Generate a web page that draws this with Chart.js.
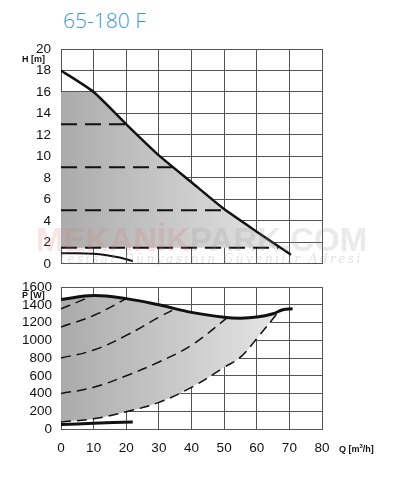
<!DOCTYPE html>
<html>
<head>
<meta charset="utf-8">
<script src="https://cdn.jsdelivr.net/npm/chart.js@4.4.0/dist/chart.umd.min.js"></script>
<style>
  body { margin: 0; background: #fff; width: 394px; height: 480px; position: relative; overflow: hidden; font-family: "Liberation Sans", Arial, sans-serif; }
  canvas { position: absolute; left: 0; }
  #top { top: 0; }
  #bottom { top: 270px; }
  .lbl { position: absolute; font-size: 9px; font-weight: bold; color: #111; white-space: nowrap; }
  #title { position: absolute; left: 63px; top: 6px; font-family: "Open Sans", sans-serif; font-weight: 300; font-size: 21px; color: #3a9ad6; }
  #wm { position: absolute; left: 36px; top: 221px; font-family: "Liberation Sans", sans-serif; font-weight: bold; font-size: 33px; letter-spacing: 0px; color: rgba(215,120,120,0.2); pointer-events: none; }
  #wm span { color: rgba(150,150,150,0.2); }
  #wm2 { position: absolute; left: 58px; top: 252px; font-family: "DejaVu Serif", serif; font-style: italic; font-size: 12px; letter-spacing: 2.5px; color: rgba(150,150,150,0.28); }
</style>
</head>
<body>
<div id="title">65-180 F</div>
<canvas id="top" width="394" height="282"></canvas>
<canvas id="bottom" width="394" height="210"></canvas>
<div class="lbl" style="left:22px;top:54px;">H [m]</div>
<div class="lbl" style="left:22px;top:290px;">P [W]</div>
<div class="lbl" style="left:339px;top:443px;">Q [m<sup style="font-size:6px">3</sup>/h]</div>
<div id="wm">MEKANİK<span>PARK.COM</span></div>
<div id="wm2">Tesisat Dünyasının Güvenilir Adresi</div>
<script>
// Q axis [m3/h]
const qTicks = [0, 10, 20, 30, 40, 50, 60, 70, 80];

// H curve (max speed)
const hMaxQ = [0, 10, 20, 30, 40, 50, 60, 70.5];
const hMaxH = [18, 16, 13, 10.1, 7.6, 5.1, 3.0, 0.85];
// H shaded region upper edge
const hAreaQ = [0, 10, 20, 30, 40, 50, 60, 66.6];
const hAreaH = [16, 16, 13, 10.1, 7.6, 5.1, 3.0, 1.5];
// H constant pressure lines (dashed)
const hConst = [13, 9, 5, 1.5];
const hConstEnd = [20, 34, 51, 66.6];
// H min curve
const hMinQ = [0, 10, 18, 22];
const hMinH = [1.0, 0.95, 0.6, 0.25];

// P curve (max)
const pMaxQ = [0, 10, 20, 30, 40, 50, 55, 60, 65, 68, 71];
const pMaxP = [1460, 1505, 1470, 1400, 1315, 1260, 1250, 1262, 1300, 1345, 1355];
// P dashed curves
const pD1Q = [0, 5, 9];
const pD1P = [1355, 1430, 1495];
const pD2Q = [0, 10, 20];
const pD2P = [1150, 1280, 1470];
const pD3Q = [0, 10, 20, 30, 34.5];
const pD3P = [800, 890, 1055, 1260, 1345];
const pD4Q = [0, 10, 20, 30, 40, 51];
const pD4P = [400, 470, 600, 755, 945, 1255];
const pD5Q = [0, 10, 20, 30, 40, 50, 55, 60, 67];
const pD5P = [80, 115, 195, 300, 470, 695, 810, 1020, 1336];
// P shaded region upper edge
const pAreaQ = [0, 10, 20, 30, 40, 50, 55, 60, 65, 67];
const pAreaP = [1460, 1505, 1470, 1400, 1315, 1260, 1250, 1262, 1300, 1336];
// P min curve
const pMinQ = [0, 10, 22];
const pMinP = [50, 65, 80];

function pts(xs, ys) { return xs.map((x, i) => ({ x: x, y: ys[i] })); }

function grad(ctx) {
  const ch = ctx.chart, a = ch.chartArea;
  if (!a) return '#ccc';
  const g = ch.ctx.createLinearGradient(a.left, 0, a.left + (a.right - a.left) * 0.85, 0);
  g.addColorStop(0, '#ababab');
  g.addColorStop(1, '#e6e6e6');
  return g;
}

const gridC = '#555';
const tickFont = { family: '"Liberation Sans", Arial, sans-serif', size: 13.5 };

const topSets = [
  { data: pts(hAreaQ, hAreaH), borderWidth: 0, pointRadius: 0, tension: 0, fill: { value: 1.5 }, backgroundColor: grad, order: 5 },
  { data: pts(hMaxQ, hMaxH), borderColor: '#111', borderWidth: 2.5, pointRadius: 0, tension: 0.2, fill: false, order: 1 },
  { data: pts(hMinQ, hMinH), borderColor: '#111', borderWidth: 2, pointRadius: 0, tension: 0.4, fill: false, order: 1 }
];
hConst.forEach((h, i) => {
  topSets.push({ data: pts([0, hConstEnd[i]], [h, h]), borderColor: '#111', borderWidth: 2, borderDash: [16, 8], pointRadius: 0, fill: false, order: 2 });
});

new Chart(document.getElementById('top'), {
  type: 'line',
  data: { datasets: topSets },
  options: {
    responsive: false, animation: false,
    layout: { padding: { top: 49, right: 72, bottom: 8, left: 0 } },
    plugins: { legend: { display: false }, tooltip: { enabled: false } },
    scales: {
      x: { type: 'linear', min: 0, max: 80,
        afterFit: s => { s.height = 0; },
        ticks: { display: false, stepSize: 10 },
        grid: { color: gridC, drawTicks: false }, border: { color: gridC } },
      y: { min: 0, max: 20,
        afterFit: s => { s.width = 61; },
        ticks: { stepSize: 2, autoSkip: false, color: '#111', font: tickFont, padding: 10 },
        grid: { color: gridC, drawTicks: false }, border: { color: gridC } }
    }
  }
});

const dashP = { borderColor: '#111', borderWidth: 1.5, borderDash: [10, 6], pointRadius: 0, tension: 0.4, fill: false, order: 2 };
const botSets = [
  Object.assign({}, dashP, { data: pts(pD5Q, pD5P) }),
  { data: pts(pAreaQ, pAreaP), borderWidth: 0, pointRadius: 0, tension: 0.4, fill: 0, backgroundColor: grad, order: 5 },
  { data: pts(pMaxQ, pMaxP), borderColor: '#111', borderWidth: 3, pointRadius: 0, tension: 0.4, fill: false, order: 1 },
  { data: pts(pMinQ, pMinP), borderColor: '#111', borderWidth: 3, pointRadius: 0, tension: 0.4, fill: false, order: 1 },
  Object.assign({}, dashP, { data: pts(pD1Q, pD1P) }),
  Object.assign({}, dashP, { data: pts(pD2Q, pD2P) }),
  Object.assign({}, dashP, { data: pts(pD3Q, pD3P) }),
  Object.assign({}, dashP, { data: pts(pD4Q, pD4P) })
];

new Chart(document.getElementById('bottom'), {
  type: 'line',
  data: { datasets: botSets },
  options: {
    responsive: false, animation: false,
    layout: { padding: { top: 16, right: 72, bottom: 0, left: 0 } },
    plugins: { legend: { display: false }, tooltip: { enabled: false } },
    scales: {
      x: { type: 'linear', min: 0, max: 80,
        afterFit: s => { s.height = 51; },
        afterBuildTicks: s => { s.ticks = qTicks.map(v => ({ value: v })); },
        ticks: { autoSkip: false, maxRotation: 0, color: '#111', font: tickFont, padding: 11 },
        grid: { color: gridC, drawTicks: false }, border: { color: gridC } },
      y: { min: 0, max: 1600,
        afterFit: s => { s.width = 61; },
        ticks: { stepSize: 200, autoSkip: false, color: '#111', font: tickFont, padding: 9, callback: v => String(v) },
        grid: { color: gridC, drawTicks: false }, border: { color: gridC } }
    }
  }
});
</script>
</body>
</html>
